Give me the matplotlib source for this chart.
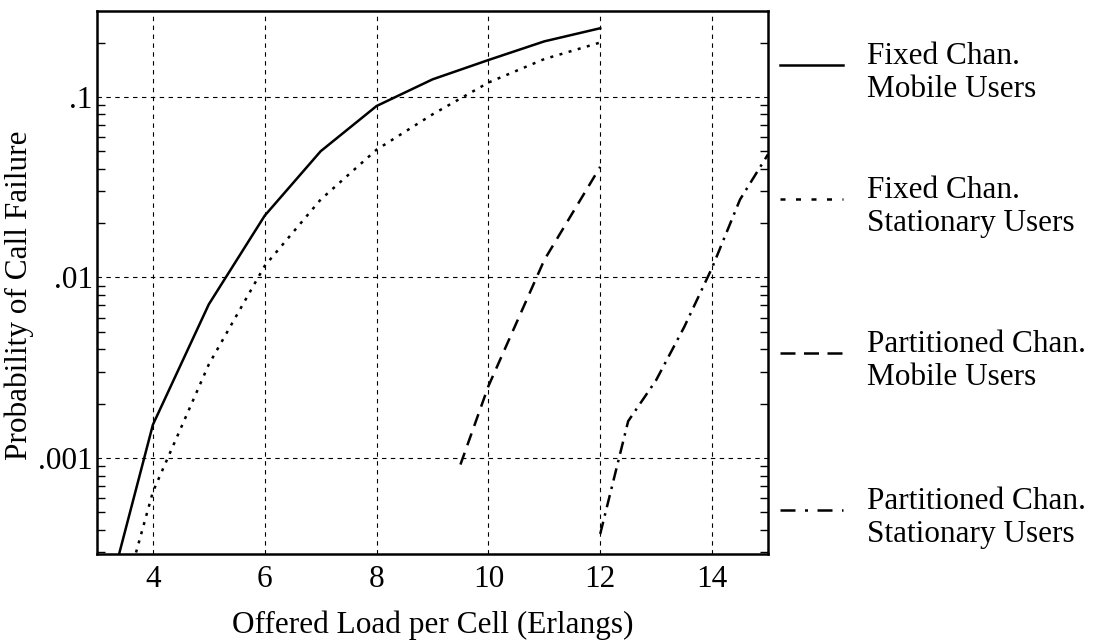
import matplotlib
import numpy as np
import matplotlib.pyplot as plt
from matplotlib.lines import Line2D
from matplotlib.ticker import FixedLocator, LogLocator, NullFormatter

matplotlib.use('Agg')
plt.rcParams['font.family'] = ['Liberation Serif', 'DejaVu Serif']

# Fixed channels, mobile users
fm_x = [3, 4, 5, 6, 7, 8, 9, 10, 11, 12]
fm_y = [0.0001, 0.00153, 0.0071, 0.022, 0.050, 0.089, 0.125, 0.160, 0.203, 0.240]

# Fixed channels, stationary users
fs_x = [3, 4, 5, 6, 7, 8, 9, 10, 11, 12]
fs_y = [0.00005, 0.00065, 0.0033, 0.0116, 0.027, 0.051, 0.080, 0.120, 0.162, 0.200]

# Partitioned channels, mobile users
pm_x = [9.5, 10, 11, 12]
pm_y = [0.00092, 0.0025, 0.0125, 0.041]

# Partitioned channels, stationary users
ps_x = [12, 12.5, 13, 13.5, 14, 14.5, 15]
ps_y = [0.00038, 0.0016, 0.0027, 0.0053, 0.0113, 0.027, 0.048]

x_ticks = [4, 6, 8, 10, 12, 14]
y_ticks = [0.001, 0.01, 0.1]
y_labels = ['.001', '.01', '.1']

labels = ['Fixed Chan.\nMobile Users', 'Fixed Chan.\nStationary Users',
          'Partitioned Chan.\nMobile Users', 'Partitioned Chan.\nStationary Users']

styles = ['-', (0, (1.2, 2.6)), (0, (5, 3.2)), (0, (5, 2.5, 1, 2.5))]
# legend samples use a coarser pattern than the curves
leg_styles = ['-', (0, (2, 4.2)), (0, (6, 3.4)), (0, (6, 3.8, 1.2, 3.8))]
lw = 1.8
fs = 22.5

fig = plt.figure(figsize=(10.96, 6.43), dpi=100)
ax = fig.add_axes([0.0885, 0.1384, 0.6122, 0.8445])

series = [(fm_x, fm_y), (fs_x, fs_y), (pm_x, pm_y), (ps_x, ps_y)]
for (xs, ys), ls in zip(series, styles):
    ax.plot(xs, ys, color='black', linewidth=lw, linestyle=ls)

ax.set_yscale('log')
ax.set_xlim(3, 15)
ax.set_ylim(2.94e-4, 0.299)

ax.xaxis.set_major_locator(FixedLocator(x_ticks))
ax.yaxis.set_major_locator(FixedLocator(y_ticks))
ax.set_yticklabels(y_labels)
ax.yaxis.set_minor_locator(LogLocator(base=10, subs=np.arange(2, 10)))
ax.yaxis.set_minor_formatter(NullFormatter())

ax.tick_params(axis='both', which='major', direction='in', length=0,
               labelsize=fs)
ax.tick_params(axis='y', which='major', pad=3)
ax.tick_params(axis='x', which='major', pad=8)
ax.tick_params(axis='y', which='minor', direction='in', length=6,
               width=1, left=True, right=True)

ax.grid(True, which='major', color='black', linewidth=0.8,
        linestyle=(0, (4, 4)))

for sp in ax.spines.values():
    sp.set_linewidth(1.8)

ax.set_xlabel('Offered Load per Cell (Erlangs)', fontsize=fs, labelpad=12)
ax.set_ylabel('Probability of Call Failure', fontsize=fs)
ax.yaxis.set_label_coords(-0.094, 0.477)

# legend drawn at the right side
leg_y = [65, 199, 353, 510]
for yy, ls, lab in zip(leg_y, leg_styles, labels):
    fy = 1 - yy / 643
    fig.add_artist(Line2D([780 / 1096, 843 / 1096], [fy, fy], color='black',
                          linewidth=lw, linestyle=ls))
    fig.text(867 / 1096, fy - 8 / 643, lab, fontsize=fs, va='center',
             ha='left', linespacing=1.18)

fig.savefig('out.png', dpi=100)
